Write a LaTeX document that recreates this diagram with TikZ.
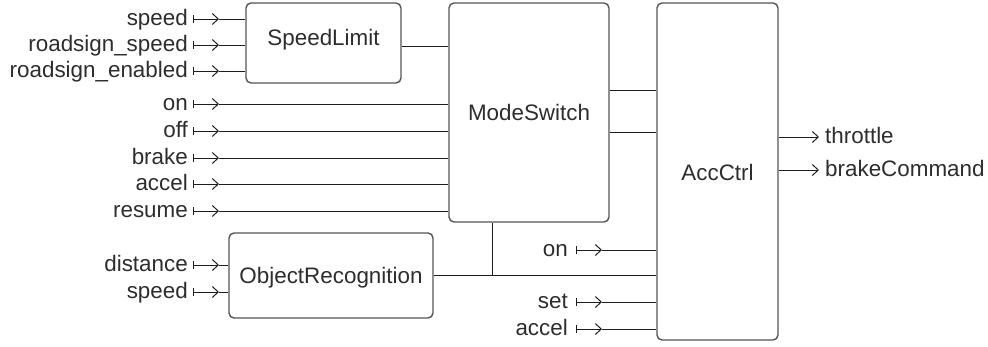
\documentclass[tikz,border=0pt]{standalone}
\usepackage{fontspec}
\setmainfont{Liberation Sans}
\usetikzlibrary{arrows.meta}
\definecolor{txt}{RGB}{45,45,45}
\definecolor{bord}{RGB}{85,85,85}
\definecolor{wire}{RGB}{30,30,30}
\tikzset{
  blk/.style={draw=bord, line width=1.4pt, rounded corners=5pt, fill=white, inner sep=0pt},
  lbl/.style={text=txt, font=\fontsize{22.4pt}{26pt}\selectfont, inner sep=0pt},
  wirel/.style={draw=wire, line width=1pt},
  inarrow/.style={draw=wire, line width=1pt, {Bar[width=8pt,line width=1pt]}-{Straight Barb[length=6pt,width=11pt,line width=1pt]}},
  outarrow/.style={draw=wire, line width=1pt, -{Straight Barb[length=6pt,width=11pt,line width=1pt]}}
}
\begin{document}
\begin{tikzpicture}[x=1pt,y=-1pt]
\useasboundingbox (0,0) rectangle (988,346);
% boxes
\node[blk, minimum width=155pt, minimum height=80pt] (SL) at (323.5,43) {};
\node[blk, minimum width=160pt, minimum height=219pt] (MS) at (529,112.5) {};
\node[blk, minimum width=121pt, minimum height=337pt] (AC) at (717.5,171.5) {};
\node[blk, minimum width=204pt, minimum height=85pt] (OR) at (331,275.5) {};
\node[lbl, anchor=base] (SLt) at (323.5,45) {SpeedLimit};
\node[lbl, anchor=base] (MSt) at (529,120) {ModeSwitch};
\node[lbl, anchor=base] (ACt) at (717.5,180) {AccCtrl};
\node[lbl, anchor=base] (ORt) at (331,283) {ObjectRecognition};
% left inputs
\foreach \nm/\y/\t/\tgt in {i1/19/speed/SL, i2/45/roadsign\_speed/SL, i3/71/roadsign\_enabled/SL,
  i4/104/on/MS, i5/131/off/MS, i6/158/brake/MS, i7/184/accel/MS, i8/211/resume/MS,
  i9/265/distance/OR, i10/292/speed/OR}{
  \node[lbl, anchor=base east] (\nm t) at (188,\y+6) {\t};
  \coordinate (\nm a) at (193,\y);
  \coordinate (\nm b) at (219,\y);
  \draw[inarrow] (\nm a) -- (\nm b);
  \draw[wirel] (\nm b) -- (\tgt.west |- \nm b);
}
% right inputs to AccCtrl
\foreach \nm/\y/\t in {r1/250/on, r2/302/set, r3/329/accel}{
  \node[lbl, anchor=base east] (\nm t) at (568,\y+6) {\t};
  \coordinate (\nm a) at (576,\y);
  \coordinate (\nm b) at (602,\y);
  \draw[inarrow] (\nm a) -- (\nm b);
  \draw[wirel] (\nm b) -- (AC.west |- \nm b);
}
% internal connections
\coordinate (sl1) at (401,46);
\draw[wirel] (SL.east |- sl1) -- (MS.west |- sl1);
\coordinate (m1) at (609,90);
\coordinate (m2) at (609,132);
\draw[wirel] (MS.east |- m1) -- (AC.west |- m1);
\draw[wirel] (MS.east |- m2) -- (AC.west |- m2);
\coordinate (j) at (492,275);
\draw[wirel] (OR.east |- j) -- (AC.west |- j);
\draw[wirel] (j |- MS.south) -- (j);
% outputs
\coordinate (o1) at (819,137);
\coordinate (o2) at (819,170);
\draw[outarrow] (AC.east |- o1) -- (o1);
\draw[outarrow] (AC.east |- o2) -- (o2);
\node[lbl, anchor=base west] (o1t) at (825,143) {throttle};
\node[lbl, anchor=base west] (o2t) at (825,176) {brakeCommand};
\end{tikzpicture}
\end{document}
